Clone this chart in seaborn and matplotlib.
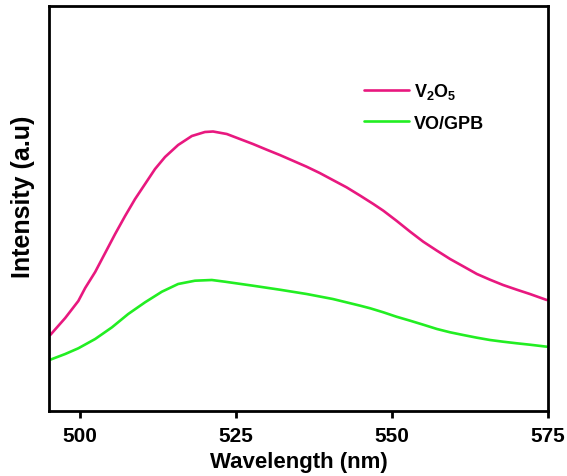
import numpy as np
import pandas as pd
import matplotlib
matplotlib.use("Agg")
import matplotlib.pyplot as plt
import seaborn as sns

# Photoluminescence spectra (arbitrary intensity units)
v2o5_wl = [495.2, 497.6, 499.7, 500.8, 502.4, 504.0, 505.6, 507.2, 508.8,
           510.4, 512.0, 513.6, 515.7, 517.9, 520.0, 521.3, 523.5, 525.6,
           527.7, 529.9, 532.0, 534.1, 536.3, 538.4, 540.5, 542.7, 544.9,
           547.0, 548.6, 550.7, 552.9, 555.0, 557.2, 559.3, 561.4, 563.6,
           565.7, 567.8, 570.0, 572.1, 574.8]
v2o5_int = [76, 93, 110, 123, 139, 158, 177, 195, 212,
            227, 242, 254, 266, 275, 279, 279.5, 277, 272,
            267, 261.3, 256, 250.3, 244.3, 238, 231, 223.7, 215.3,
            207, 200.3, 190.3, 179.3, 169.3, 160.3, 152, 144.7, 137,
            131.3, 126, 121.3, 117, 111]

vo_gpb_wl = [495.2, 497.6, 499.7, 502.4, 505.1, 507.7, 510.4, 513.1, 515.7,
             518.4, 521.1, 523.2, 527.7, 532.0, 536.3, 540.5, 544.9, 546.5,
             548.6, 550.7, 552.9, 555.0, 557.2, 559.3, 561.4, 563.6, 565.7,
             567.8, 570.0, 572.1, 574.8]
vo_gpb_int = [51.3, 57, 62.7, 72, 83.7, 97, 108.7, 119.3, 127,
              130.3, 131, 129.3, 125.3, 121.3, 117, 112, 105.3, 102.7,
              98.7, 94.3, 90.3, 86.3, 82, 78.7, 76, 73.3, 71,
              69.3, 67.7, 66.3, 64.3]

series_names = [r"$\mathbf{V_2O_5}$", "VO/GPB"]
series_colors = ["#E8187F", "#22EE22"]
x_ticks = [500, 525, 550, 575]

df = pd.concat([
    pd.DataFrame({"Wavelength": v2o5_wl, "Intensity": v2o5_int, "Sample": series_names[0]}),
    pd.DataFrame({"Wavelength": vo_gpb_wl, "Intensity": vo_gpb_int, "Sample": series_names[1]}),
])

sns.set_theme(style="white")
plt.rcParams["font.family"] = ["Liberation Sans", "DejaVu Sans"]
plt.rcParams["font.weight"] = "bold"
plt.rcParams["text.color"] = "black"
plt.rcParams["axes.labelcolor"] = "black"
plt.rcParams["xtick.color"] = "black"
plt.rcParams["mathtext.fontset"] = "custom"
plt.rcParams["mathtext.bf"] = "Liberation Sans:bold"
plt.rcParams["mathtext.rm"] = "Liberation Sans:bold"

fig = plt.figure(figsize=(5.67, 4.77), dpi=100)
ax = fig.add_axes([49 / 567, 1 - 412 / 477, 499 / 567, 405 / 477])

sns.lineplot(data=df, x="Wavelength", y="Intensity", hue="Sample",
             palette=dict(zip(series_names, series_colors)),
             linewidth=1.9, ax=ax, legend=True)

ax.set_xlim(495, 575)
ax.set_ylim(0, 405)
ax.set_xticks(x_ticks)
ax.set_xticklabels([str(t) for t in x_ticks], fontsize=15, fontweight="bold",
                   color="black")
ax.set_yticks([])
ax.tick_params(axis="x", direction="out", length=5, width=2, colors="black",
               bottom=True, pad=6)
for sp in ax.spines.values():
    sp.set_linewidth(2)
    sp.set_color("black")

ax.set_xlabel("Wavelength (nm)", fontsize=16, fontweight="bold",
              color="black", labelpad=4)
ax.set_ylabel("Intensity (a.u)", fontsize=18, fontweight="bold",
              color="black")
ax.yaxis.set_label_coords(-0.028, 0.531)

leg = ax.legend(frameon=False, loc="upper left", bbox_to_anchor=(0.598, 0.855),
                prop={"size": 13, "weight": "bold"}, handlelength=2.5,
                handletextpad=0.3, labelspacing=0.75)
for line in leg.get_lines():
    line.set_linewidth(1.9)
for txt in leg.get_texts():
    txt.set_color("black")

fig.savefig("out.png", dpi=100)
